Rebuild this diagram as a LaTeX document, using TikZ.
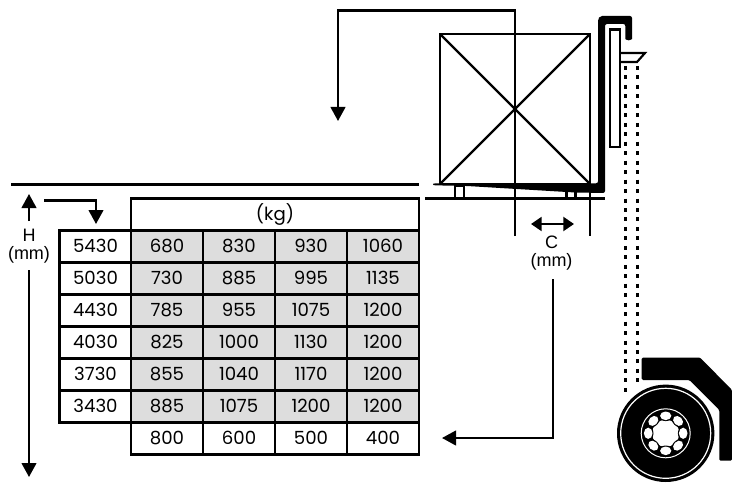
\documentclass[tikz,border=0pt]{standalone}
\usepackage{fontspec}
\setmainfont{Poppins}
\newfontfamily\arialish{Liberation Sans}
\usetikzlibrary{arrows.meta,calc}
\definecolor{cellgrey}{HTML}{DDDDDD}
\tikzset{
  x=0.75pt,y=-0.75pt,
  ln/.style={line width=1.6pt,line cap=butt},
  head/.style={-{Triangle[length=10.5pt,width=11pt]}},
  cellbox/.style={draw=black,line width=1.6pt,minimum width=54pt,minimum height=24pt,inner sep=0pt,text height=9.5pt,text depth=0pt,font=\fontsize{13.6pt}{14pt}\selectfont,anchor=center},
  filled cell/.style={cellbox,fill=cellgrey},
  lab/.style={inner sep=0pt,align=center,font=\arialish\fontsize{13.5pt}{13.5pt}\selectfont},
  dots/.style={line width=2pt,dash pattern=on 3pt off 4.1pt},
}
\begin{document}
\begin{tikzpicture}
\useasboundingbox (0,0) rectangle (732,485);
% header
\node[cellbox,minimum width=216pt,minimum height=24pt] (hdr) at (275,214.5) {(kg)};
% table
\foreach \r/\h/\a/\b/\c [count=\i from 0] in {5430/680/830/930/1060,5030/730/885/995/1135,4430/785/955/1075/1200,4030/825/1000/1130/1200,3730/855/1040/1170/1200,3430/885/1075/1200/1200}{
  \node[cellbox] (h\i) at (95.5,246.5+32*\i) {\r};
  \node[filled cell] (a\i) at (167,246.5+32*\i) {\h};
  \node[filled cell] (b\i) at (239,246.5+32*\i) {\a};
  \node[filled cell] (c\i) at (311,246.5+32*\i) {\b};
  \node[filled cell] (d\i) at (383,246.5+32*\i) {\c};
}
\foreach \v/\n/\x in {800/a/167,600/b/239,500/c/311,400/d/383}{
  \node[cellbox] (\n6) at (\x,438.5) {\v};
}
% ground lines
\coordinate (g1) at (11,184.5); \coordinate (g2) at (419,184.5);
\draw[ln] (g1) -- (g2);
\coordinate (f1) at (425,198.5); \coordinate (f2) at (605,198.5);
\draw[ln] (f1) -- (f2);
% H labels and arrows
\node[lab] (H) at (29,246.5) {H\\(mm)};
\coordinate (Hup) at (29,194); \coordinate (Hdn) at (29,477);
\coordinate (Hs) at (29,221); \coordinate (Ht) at (29,270);
\draw[ln,head] (Hs) -- (Hup);
\draw[ln,head] (Ht) -- (Hdn);
\coordinate (s) at (44,200.5);
\draw[ln,head] (s) -- (96,200.5) -- (96,224);
% load
\draw[ln] (440,34) rectangle (590,184);
\draw[ln] (440,34) -- (590,184) (590,34) -- (440,184);
\draw[ln] (590,184) -- (590,236);
\draw[ln,head] (515,236) -- (515,10.5) -- (338,10.5) -- (338,121);
% fork feet
\draw[ln] (455,186) rectangle (464,198.5);
\draw[ln] (566.5,190) rectangle (575.5,198.5);
% fork and mast
\fill[rounded corners=1.5pt] (433,183.3) -- (598,183.3) -- (598,19) -- (600,16) -- (632,16) -- (632,37) arc[start angle=0,end angle=180,radius=3.35] -- (625.3,24) -- (605,24) -- (605,193) -- (575,192.5) -- (467,186) -- (433,185.3) -- cycle;
\draw[ln,fill=white] (610,29.5) rectangle (619.7,147);
% carriage
\draw[ln] (620,53) -- (645,53) -- (637,62) -- (620,62);
% dotted
\draw[dots] (625.7,66) -- (625.7,396);
\draw[dots] (637.7,66) -- (637.7,383);
% arrow C
\draw[ln,{Triangle[length=8pt,width=10.5pt]}-{Triangle[length=8pt,width=10.5pt]}] (531,224) -- (574,224);
\node[lab] (C) at (551.5,253) {C\\(mm)};
\draw[ln,head] (553,279) -- (553,438) -- (442,438);
% mudguard
\fill[rounded corners=1pt] (641.7,357.5) -- (700,357.5) -- (732,390) -- (732,460.7) -- (719.3,460.7) -- (719.3,410) -- (689.3,380) -- (641.7,380) -- cycle;
% wheel
\coordinate (w) at (665.7,433.3);
\fill (w) circle[radius=48.7];
\draw[white,line width=.9pt] (w) circle[radius=45];
\draw[white,line width=.75pt] (w) circle[radius=24.5];
\fill[white] (w) circle[radius=13.5];
\foreach \k in {0,45,...,315}{
  \fill[black,rotate around={\k:(w)}] ($(w)+(17.5,0)$) ellipse[x radius=5.3,y radius=7];
}
\foreach \k in {0,45,...,315}{
  \fill[white,rotate around={\k:(w)}] ($(w)+(17.5,0)$) ellipse[x radius=4.3,y radius=5.6];
}
\end{tikzpicture}
\end{document}
